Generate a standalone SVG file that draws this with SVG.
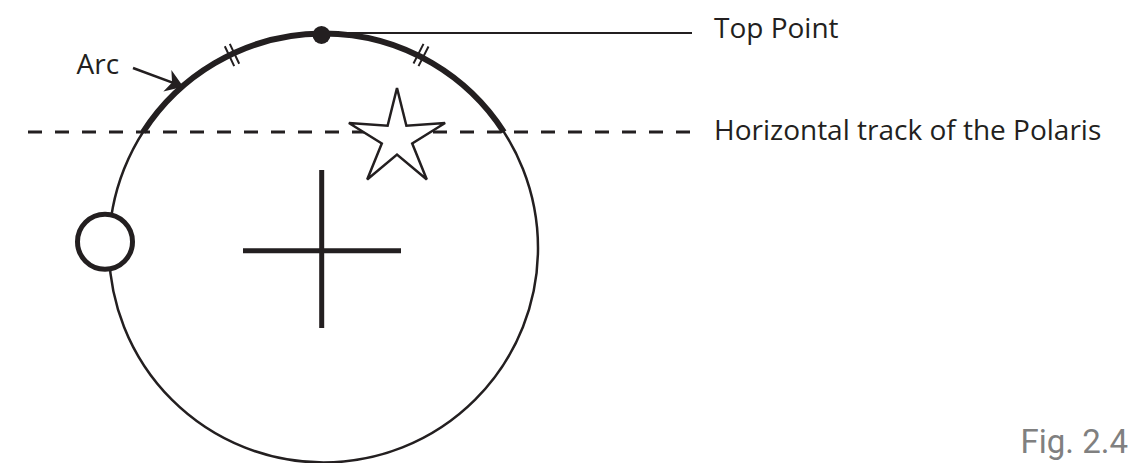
<svg xmlns="http://www.w3.org/2000/svg" width="1131" height="463" viewBox="0 0 1131 463">
<style>
.ln{stroke:#231f20;fill:none}
.lbl{font-family:"Open Sans","Liberation Sans",sans-serif;font-size:28px;fill:#231f20}
.fig{font-family:Roboto,"Liberation Sans",sans-serif;font-size:33px;fill:#808080}
</style>
<defs>
<marker id="ah" markerUnits="userSpaceOnUse" viewBox="-18 -12 19 24" refX="0" refY="0" markerWidth="19" markerHeight="24" orient="auto">
<path d="M0,0 L-17,-11.5 L-12,0 L-17,11.5 Z" fill="#231f20"/>
</marker>
</defs>
<rect width="1131" height="463" fill="#fff"/>
<g id="circle">
<circle class="ln" cx="323.5" cy="248" r="214.5" stroke-width="2.5"/>
</g>
<g id="arc">
<path class="ln" d="M143.1,132 A214.5,214.5 0 0 1 503.9,132" stroke-width="6"/>
<path class="ln" d="M224.8,46.3 L234.2,66.1 M229.8,43.9 L239.2,63.7 M413.5,63.5 L423.5,43.9 M418.5,66.1 L428.5,46.5" stroke-width="2"/>
</g>
<g id="cross">
<path class="ln" d="M321.7,170 V328 M243,250.7 H401" stroke-width="5"/>
</g>
<g id="small-circle">
<circle cx="105" cy="241.7" r="27.5" fill="#fff" stroke="#231f20" stroke-width="5"/>
</g>
<g id="horizontal-track">
<line class="ln" x1="28" y1="132" x2="690" y2="132" stroke-width="3" stroke-dasharray="14 13"/>
</g>
<g id="star">
<polygon points="397,88 406.4,125.7 445.1,123 412.2,143.5 426.8,179.5 397,154.6 367.2,179.5 381.8,143.5 348.9,123 387.6,125.7" fill="#fff" stroke="#231f20" stroke-width="2.5" stroke-linejoin="miter"/>
</g>
<g id="top-point">
<line class="ln" x1="321" y1="33" x2="692" y2="33" stroke-width="2.2"/>
<circle cx="321.5" cy="35" r="9" fill="#231f20"/>
</g>
<g id="connectors">
<line class="ln" x1="133" y1="68" x2="183.3" y2="86.7" stroke-width="2.5" marker-end="url(#ah)"/>
</g>
<g id="labels">
<text class="lbl" x="76.5" y="73.5">Arc</text>
<text class="lbl" x="714" y="37.5">Top Point</text>
<text class="lbl" x="714" y="140">Horizontal track of the Polaris</text>
<text class="fig" x="1128" y="452.5" text-anchor="end">Fig. 2.4</text>
</g>
</svg>
